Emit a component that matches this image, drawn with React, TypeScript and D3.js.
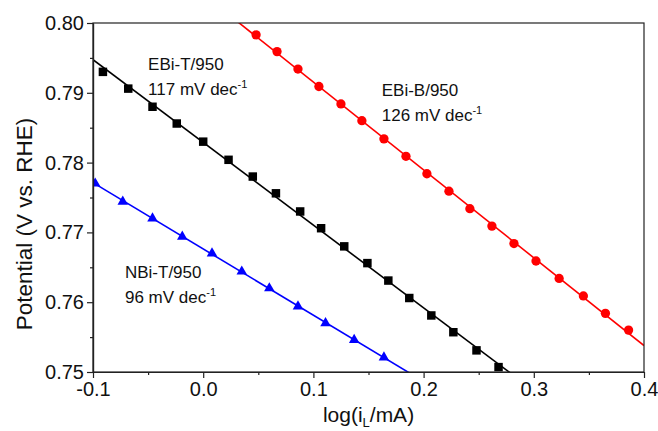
import React, { useEffect, useRef } from 'react';
import * as d3 from 'd3';

// EBi-T/950 (black squares)
const ebiTx = [-0.091, -0.068, -0.046, -0.024, 0.000, 0.023, 0.045, 0.066, 0.088, 0.107, 0.128, 0.149, 0.168, 0.187, 0.207, 0.227, 0.248, 0.268];
const ebiTy = [0.7930, 0.7906, 0.7880, 0.7856, 0.7830, 0.7804, 0.7780, 0.7756, 0.7730, 0.7706, 0.7680, 0.7656, 0.7631, 0.7606, 0.7581, 0.7557, 0.7531, 0.7507];

// EBi-B/950 (red circles)
const ebiBx = [0.048, 0.067, 0.086, 0.105, 0.125, 0.144, 0.164, 0.184, 0.203, 0.223, 0.242, 0.262, 0.282, 0.302, 0.323, 0.345, 0.365, 0.386];
const ebiBy = [0.7983, 0.7959, 0.7934, 0.7909, 0.7884, 0.7860, 0.7834, 0.7809, 0.7784, 0.7759, 0.7734, 0.7709, 0.7684, 0.7659, 0.7634, 0.7609, 0.7584, 0.7560];

// NBi-T/950 (blue triangles)
const nbiTx = [-0.098, -0.073, -0.046, -0.019, 0.008, 0.035, 0.060, 0.086, 0.111, 0.137, 0.164];
const nbiTy = [0.7770, 0.7744, 0.7720, 0.7694, 0.7670, 0.7644, 0.7620, 0.7594, 0.7570, 0.7546, 0.7521];

const xTicks = [-0.1, 0.0, 0.1, 0.2, 0.3, 0.4];
const xMinor = [-0.05, 0.05, 0.15, 0.25, 0.35];
const yTicks = [0.75, 0.76, 0.77, 0.78, 0.79, 0.80];
const yMinor = [0.755, 0.765, 0.775, 0.785, 0.795];

const seriesNames = ['EBi-T/950', 'EBi-B/950', 'NBi-T/950'];
const slopeLabels = ['117', '126', '96'];

const FONT = '"Liberation Sans", Arial, sans-serif';

// least squares fit
const fit = (xs: number[], ys: number[]) => {
  const mx = d3.mean(xs)!, my = d3.mean(ys)!;
  let num = 0, den = 0;
  xs.forEach((x, i) => { num += (x - mx) * (ys[i] - my); den += (x - mx) * (x - mx); });
  const b = num / den;
  return { a: my - b * mx, b };
};

const App = () => {
  const ref = useRef<SVGSVGElement>(null);

  useEffect(() => {
    document.body.style.margin = '0';
    const width = 658, height = 431;
    const margin = { top: 23, right: 14, bottom: 59, left: 93 };

    const svg = d3.select(ref.current);
    svg.selectAll('*').remove();

    const x = d3.scaleLinear().domain([-0.1, 0.4]).range([margin.left, width - margin.right]);
    const y = d3.scaleLinear().domain([0.75, 0.80]).range([height - margin.bottom, margin.top]);

    svg.append('defs').append('clipPath').attr('id', 'plotClip')
      .append('rect')
      .attr('x', x(-0.1)).attr('y', y(0.80))
      .attr('width', x(0.4) - x(-0.1)).attr('height', y(0.75) - y(0.80));

    const series = [
      { name: seriesNames[0], xs: ebiTx, ys: ebiTy, color: '#000000', symbol: d3.symbolSquare, size: 72 },
      { name: seriesNames[1], xs: ebiBx, ys: ebiBy, color: '#ff0000', symbol: d3.symbolCircle, size: 68 },
      { name: seriesNames[2], xs: nbiTx, ys: nbiTy, color: '#0000ff', symbol: d3.symbolTriangle, size: 48 },
    ];

    const plot = svg.append('g').attr('clip-path', 'url(#plotClip)');

    series.forEach(s => {
      const { a, b } = fit(s.xs, s.ys);
      plot.append('line')
        .attr('x1', x(-0.1)).attr('y1', y(a + b * -0.1))
        .attr('x2', x(0.4)).attr('y2', y(a + b * 0.4))
        .attr('stroke', s.color).attr('stroke-width', 1.6);
    });

    series.forEach(s => {
      plot.append('g').selectAll('path')
        .data(s.xs.map((v, i) => [v, s.ys[i]]))
        .enter().append('path')
        .attr('transform', d => `translate(${x(d[0])},${y(d[1])})`)
        .attr('d', d3.symbol(s.symbol, s.size)())
        .attr('fill', s.color);
    });

    // frame
    svg.append('rect')
      .attr('x', x(-0.1)).attr('y', y(0.80))
      .attr('width', x(0.4) - x(-0.1)).attr('height', y(0.75) - y(0.80))
      .attr('fill', 'none').attr('stroke', '#222').attr('stroke-width', 1.2);

    const styleAxis = (g: any) => {
      g.select('.domain').attr('stroke', '#222').attr('stroke-width', 1.2);
      g.selectAll('line').attr('stroke', '#222').attr('stroke-width', 1.2);
      g.selectAll('text').attr('font-family', FONT).attr('font-size', 20).attr('fill', '#111');
    };

    svg.append('g')
      .attr('transform', `translate(0,${y(0.75)})`)
      .call(d3.axisBottom(x).tickValues(xTicks).tickSize(6).tickSizeOuter(0).tickPadding(4)
        .tickFormat(d => (d as number).toFixed(1)))
      .call(styleAxis);
    svg.append('g')
      .attr('transform', `translate(0,${y(0.75)})`)
      .call(d3.axisBottom(x).tickValues(xMinor).tickSize(3).tickSizeOuter(0).tickFormat(() => ''))
      .call(styleAxis);

    svg.append('g')
      .attr('transform', `translate(${x(-0.1)},0)`)
      .call(d3.axisLeft(y).tickValues(yTicks).tickSize(6).tickSizeOuter(0).tickPadding(3)
        .tickFormat(d => (d as number).toFixed(2)))
      .call(styleAxis);
    svg.append('g')
      .attr('transform', `translate(${x(-0.1)},0)`)
      .call(d3.axisLeft(y).tickValues(yMinor).tickSize(3).tickSizeOuter(0).tickFormat(() => ''))
      .call(styleAxis);

    // axis titles
    const xt = svg.append('text')
      .attr('x', (x(-0.1) + x(0.4)) / 2).attr('y', 422)
      .attr('text-anchor', 'middle')
      .attr('font-family', FONT).attr('font-size', 21).attr('fill', '#111');
    xt.append('tspan').text('log(i');
    xt.append('tspan').attr('font-size', 13).attr('dy', 5).text('L');
    xt.append('tspan').attr('dy', -5).text('/mA)');

    svg.append('text')
      .attr('transform', `translate(32,224) rotate(-90)`)
      .attr('text-anchor', 'middle')
      .attr('font-family', FONT).attr('font-size', 22.5).attr('fill', '#111')
      .text('Potential (V vs. RHE)');

    // annotations
    const notes = [
      { name: seriesNames[0], slope: slopeLabels[0], lx: -0.05, ly: 0.7932 },
      { name: seriesNames[1], slope: slopeLabels[1], lx: 0.162, ly: 0.7896 },
      { name: seriesNames[2], slope: slopeLabels[2], lx: -0.071, ly: 0.7634 },
    ];
    notes.forEach(n => {
      svg.append('text')
        .attr('x', x(n.lx)).attr('y', y(n.ly))
        .attr('font-family', FONT).attr('font-size', 17).attr('fill', '#111')
        .text(n.name);
      const t = svg.append('text')
        .attr('x', x(n.lx)).attr('y', y(n.ly) + 25)
        .attr('font-family', FONT).attr('font-size', 17).attr('fill', '#111');
      t.append('tspan').text(`${n.slope} mV dec`);
      t.append('tspan').attr('font-size', 11).attr('dy', -7).text('-1');
    });
  }, []);

  return (
    <div>
      <svg ref={ref} width={658} height={431} style={{ display: 'block', background: '#fff' }} />
    </div>
  );
};

export default App;
